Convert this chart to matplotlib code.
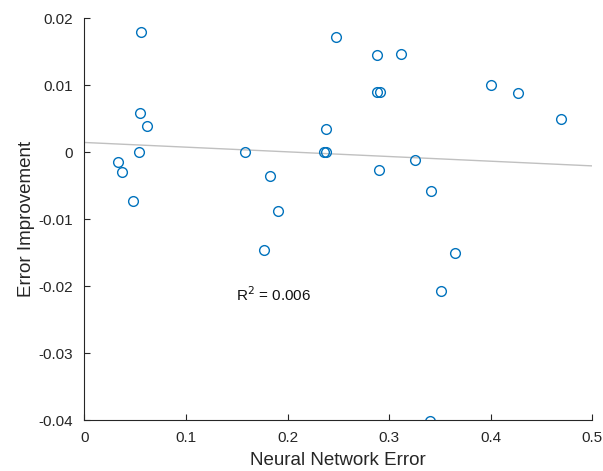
import numpy as np
import matplotlib.pyplot as plt

plt.rcParams['font.family'] = ['Liberation Sans', 'DejaVu Sans']

nn_error = [0.0562, 0.0549, 0.0612, 0.0539, 0.0332, 0.0366, 0.0480,
            0.1585, 0.1826, 0.1905, 0.1772,
            0.2473, 0.2886, 0.3115, 0.2886, 0.2912, 0.2378, 0.2358, 0.2378,
            0.2899, 0.3253, 0.3414, 0.3646, 0.3515, 0.3404,
            0.4004, 0.4265, 0.4692]
improvement = [0.0180, 0.0059, 0.0040, 0.0000, -0.0015, -0.0029, -0.0072,
               0.0000, -0.0035, -0.0088, -0.0146,
               0.0172, 0.0145, 0.0147, 0.0090, 0.0090, 0.0035, 0.0000, 0.0000,
               -0.0027, -0.0012, -0.0058, -0.0151, -0.0207, -0.0401,
               0.0100, 0.0089, 0.0050]

x_ticks = [0, 0.1, 0.2, 0.3, 0.4, 0.5]
y_ticks = [-0.04, -0.03, -0.02, -0.01, 0, 0.01, 0.02]
x_labels = ['0', '0.1', '0.2', '0.3', '0.4', '0.5']
y_labels = ['-0.04', '-0.03', '-0.02', '-0.01', '0', '0.01', '0.02']

fig = plt.figure(figsize=(6.03, 4.71), dpi=100)
ax = fig.add_axes([0.140, 0.108, 0.842, 0.853])

# linear fit
x = np.array(nn_error)
y = np.array(improvement)
slope, icpt = np.polyfit(x, y, 1)
xl = np.array([0, 0.5])
ax.plot(xl, icpt + slope * xl, color='#c0c0c0', lw=1, zorder=1)

ax.plot(x, y, 'o', mfc='none', mec='#0072BD', mew=1, ms=7, zorder=2)

ax.text(0.149, -0.0212, 'R$^2$ = 0.006', fontsize=11, va='center',
        color='#111111')

ax.set_xlim(0, 0.5)
ax.set_ylim(-0.04, 0.02)
ax.set_xticks(x_ticks)
ax.set_xticklabels(x_labels)
ax.set_yticks(y_ticks)
ax.set_yticklabels(y_labels)
ax.tick_params(direction='in', length=4, width=0.8, labelsize=11,
               colors='#262626', pad=8)
ax.spines['top'].set_color('none')
ax.spines['right'].set_color('none')
ax.spines['left'].set_color('#262626')
ax.spines['bottom'].set_color('#262626')
ax.set_xlabel('Neural Network Error', fontsize=13.5, color='#262626',
              labelpad=5)
ax.set_ylabel('Error Improvement', fontsize=13.5, color='#262626',
              labelpad=3)

fig.savefig('out.png', dpi=100)
